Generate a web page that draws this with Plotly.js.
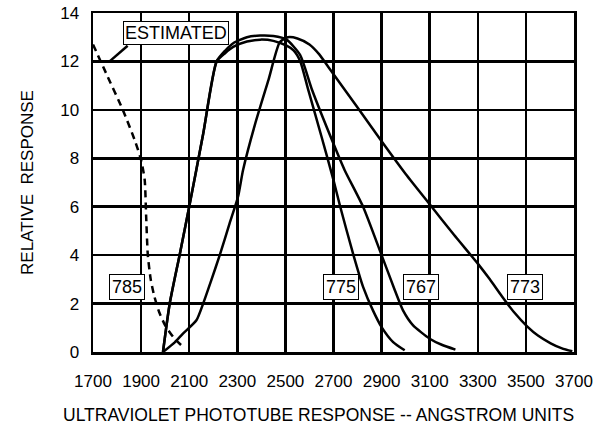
<!DOCTYPE html>
<html>
<head>
<meta charset="utf-8">
<script src="https://cdn.plot.ly/plotly-3.0.1.min.js"></script>
<style>html,body{margin:0;padding:0;background:#fff;}#chart{width:612px;height:430px;}</style>
</head>
<body>
<div id="chart"></div>
<script>
// Wavelength (Angstrom) and relative response for each phototube
const x785 = [1700, 1755, 1824, 1873, 1900, 1915, 1921, 1928, 1940, 1955, 1975, 2000, 2035, 2067];
const y785 = [12.7, 11.5, 10.0, 8.76, 7.93, 7.1, 5.6, 4.0, 3.0, 2.3, 1.65, 1.1, 0.6, 0.28];

const x775 = [1991, 2019, 2060, 2100, 2158, 2214, 2250, 2283, 2340, 2395, 2450, 2505, 2535, 2562, 2593, 2650, 2700, 2728, 2781, 2823, 2864, 2900, 2948, 2996];
const y775 = [0, 2.0, 4.0, 6.0, 9.0, 12.0, 12.35, 12.6, 12.82, 12.9, 12.85, 12.65, 12.45, 12.0, 10.9, 8.9, 7.1, 6.0, 4.07, 2.69, 1.72, 1.03, 0.41, 0.07];

const x767 = [1991, 2019, 2060, 2100, 2158, 2214, 2250, 2283, 2340, 2395, 2450, 2505, 2561, 2611, 2700, 2746, 2823, 2900, 2955, 2989, 3031, 3100, 3150, 3207];
const y767 = [0, 2.0, 4.0, 6.0, 9.0, 12.0, 12.45, 12.75, 13.0, 13.07, 13.05, 12.9, 12.27, 10.82, 8.6, 7.52, 6.0, 4.0, 2.55, 1.72, 1.1, 0.55, 0.3, 0.1];

const x773 = [1991, 2040, 2074, 2130, 2158, 2192, 2227, 2268, 2303, 2324, 2373, 2430, 2477, 2510, 2550, 2600, 2640, 2680, 2800, 2900, 3000, 3100, 3200, 3300, 3350, 3400, 3450, 3506, 3550, 3603, 3650, 3693];
const y773 = [0, 0.4, 0.76, 1.31, 2.0, 2.97, 4.0, 5.31, 6.41, 7.52, 9.38, 11.25, 12.8, 13.0, 12.95, 12.7, 12.3, 11.75, 10.1, 8.7, 7.35, 6.1, 4.85, 3.65, 3.0, 2.3, 1.65, 1.05, 0.68, 0.36, 0.15, 0.03];

// Tick labels
const xTicks = [1700, 1900, 2100, 2300, 2500, 2700, 2900, 3100, 3300, 3500, 3700];
const yTicks = [0, 2, 4, 6, 8, 10, 12, 14];

// Curve labels: [text, x, y]
const curveLabels = [
  ["785", 1842, 2.69],
  ["775", 2731, 2.69],
  ["767", 3065, 2.69],
  ["773", 3495, 2.69]
];
const estLabel = {text: "ESTIMATED", x: 2044, y: 13.16};
// leader line from the ESTIMATED box to the dashed curve
const leader = {x0: 1769, y0: 12.0, x1: 1844, y1: 12.65};
const xTitle = "ULTRAVIOLET PHOTOTUBE RESPONSE -- ANGSTROM UNITS";
const yTitle = "RELATIVE  RESPONSE";

const FONT = "Liberation Sans, Arial, Helvetica, sans-serif";
const lineStyle = {color: "#000", width: 2.5, shape: "spline", smoothing: 0.6};

const traces = [
  {x: x785, y: y785, mode: "lines", line: Object.assign({}, lineStyle, {dash: "7px,5px"}), name: "785"},
  {x: x775, y: y775, mode: "lines", line: lineStyle, name: "775"},
  {x: x767, y: y767, mode: "lines", line: lineStyle, name: "767"},
  {x: x773, y: y773, mode: "lines", line: lineStyle, name: "773"}
];

const annotations = curveLabels.map(function (c) {
  return {
    text: c[0], x: c[1], y: c[2], xref: "x", yref: "y", showarrow: false,
    font: {family: FONT, size: 18, color: "#000"},
    bgcolor: "#fff", bordercolor: "#000", borderwidth: 1, borderpad: 2
  };
});
annotations.push({
  text: estLabel.text, x: estLabel.x, y: estLabel.y, xref: "x", yref: "y",
  showarrow: false,
  font: {family: FONT, size: 18, color: "#000"},
  bgcolor: "#fff", bordercolor: "#000", borderwidth: 1, borderpad: 1
});
// x-axis title, placed slightly left of centre as in the original
annotations.push({
  text: xTitle, xref: "paper", yref: "paper", x: 0.468, y: -0.186,
  xanchor: "center", yanchor: "middle", showarrow: false,
  font: {family: FONT, size: 17.5, color: "#000"}
});

const layout = {
  width: 612, height: 430,
  margin: {l: 93, r: 38, t: 13, b: 78},
  paper_bgcolor: "#fff", plot_bgcolor: "#fff",
  showlegend: false,
  font: {family: FONT, color: "#000", size: 17},
  xaxis: {
    range: [1700, 3700], tickvals: xTicks, ticktext: xTicks.map(String),
    showgrid: true, gridcolor: "#000", gridwidth: 2.5,
    showline: true, linecolor: "#000", linewidth: 2.5, mirror: true,
    zeroline: false, ticks: "", ticklabelstandoff: 12,
    tickfont: {family: FONT, size: 17, color: "#000"}
  },
  yaxis: {
    range: [0, 14], tickvals: yTicks, ticktext: yTicks.map(String),
    showgrid: true, gridcolor: "#000", gridwidth: 2.5,
    showline: true, linecolor: "#000", linewidth: 2.5, mirror: true,
    zeroline: false, ticks: "", ticklabelstandoff: 8,
    tickfont: {family: FONT, size: 17, color: "#000"},
    title: {text: yTitle, font: {family: FONT, size: 17, color: "#000"}, standoff: 22}
  },
  shapes: [{
    type: "line", xref: "x", yref: "y",
    x0: leader.x0, y0: leader.y0, x1: leader.x1, y1: leader.y1,
    line: {color: "#000", width: 2.5}
  }],
  annotations: annotations
};

Plotly.newPlot("chart", traces, layout, {staticPlot: true, displayModeBar: false});
</script>
</body>
</html>
